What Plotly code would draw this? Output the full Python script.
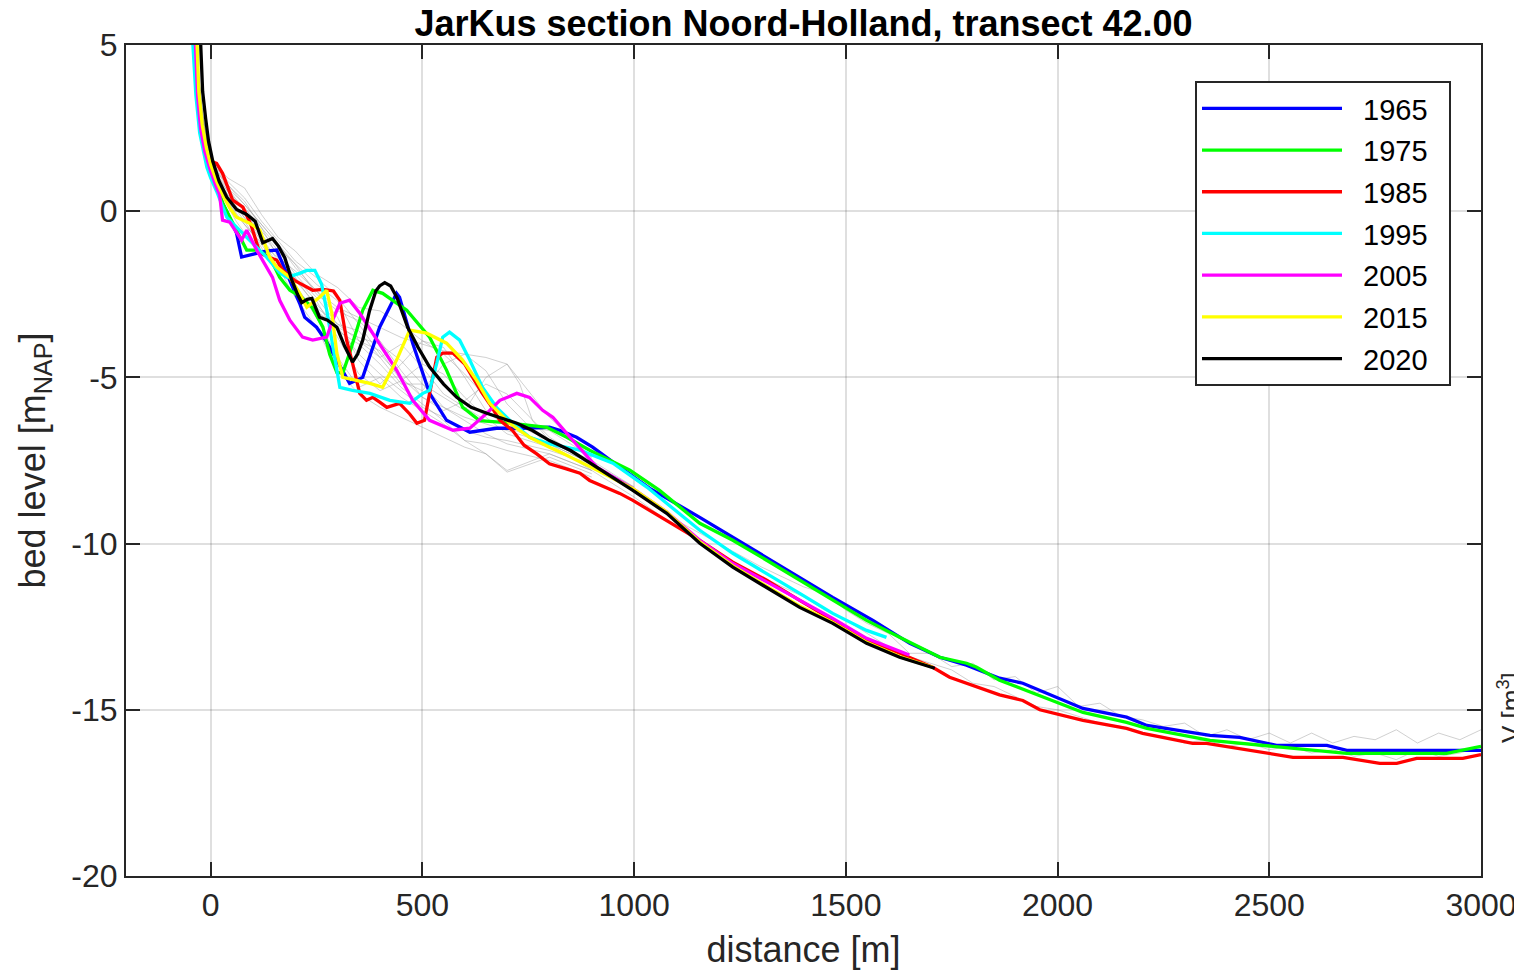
import plotly.graph_objects as go

# ---------------- data (distance [m], bed level [m NAP]) ----------------
years = ["1965", "1975", "1985", "1995", "2005", "2015", "2020"]
colors = ["#0000ff", "#00ff00", "#ff0000", "#00ffff", "#ff00ff", "#ffff00", "#000000"]

x_1965 = [-40, -36, -31, -24, -14, 0, 14, 28, 45, 61, 73, 99, 130, 156, 180, 210, 222, 250, 274, 298,
          328, 359, 399, 439, 446, 477, 517, 557, 612, 675, 737, 800, 824, 864, 902, 950, 1037, 1155,
          1233, 1313, 1391, 1469, 1564, 1651, 1722, 1785, 1863, 1918, 2060, 2163, 2211, 2360, 2430,
          2517, 2636, 2683, 3000]
z_1965 = [7.0, 5.0, 3.5, 2.5, 1.8, 1.2, 0.7, 0.24, -0.2, -0.66, -1.38, -1.3, -1.2, -1.17, -1.87, -2.77,
          -3.19, -3.49, -3.93, -4.48, -5.18, -5.0, -3.49, -2.47, -2.59, -3.97, -5.48, -6.29, -6.65,
          -6.53, -6.53, -6.5, -6.59, -6.8, -7.1, -7.55, -8.34, -9.21, -9.81, -10.41, -11.01, -11.62,
          -12.31, -13.0, -13.42, -13.66, -14.05, -14.2, -14.96, -15.22, -15.47, -15.77, -15.83,
          -16.07, -16.07, -16.22, -16.22]

x_1975 = [-40, -36, -31, -24, -14, 0, 14, 30, 50, 64, 85, 109, 139, 163, 187, 210, 240, 265, 281, 298,
          312, 328, 359, 383, 406, 463, 517, 557, 595, 635, 690, 753, 794, 841, 895, 990, 1060, 1155,
          1233, 1313, 1391, 1469, 1549, 1627, 1722, 1785, 1809, 1863, 1941, 2060, 2163, 2211, 2360,
          2517, 2683, 2919, 3000]
z_1975 = [7.0, 5.0, 3.5, 2.5, 1.8, 1.2, 0.7, 0.2, -0.3, -0.66, -1.17, -1.17, -1.38, -1.99, -2.38,
          -2.55, -2.9, -3.49, -4.3, -4.85, -4.87, -4.27, -2.98, -2.38, -2.47, -2.98, -3.79, -4.78,
          -5.9, -6.3, -6.35, -6.44, -6.5, -6.8, -7.19, -7.79, -8.4, -9.39, -9.9, -10.5, -11.1, -11.71,
          -12.31, -12.82, -13.42, -13.6, -13.72, -14.11, -14.5, -15.08, -15.38, -15.56, -15.92,
          -16.1, -16.31, -16.31, -16.1]

x_1985 = [-40, -36, -31, -24, -14, 0, 14, 28, 52, 76, 95, 116, 140, 156, 170, 200, 241, 265, 281, 290,
          305, 321, 335, 352, 368, 383, 400, 416, 446, 470, 487, 505, 517, 534, 548, 572, 600, 619,
          640, 659, 683, 713, 740, 770, 800, 840, 872, 895, 966, 997, 1077, 1155, 1233, 1313, 1391,
          1469, 1549, 1627, 1705, 1745, 1785, 1863, 1918, 1958, 2060, 2163, 2201, 2319, 2352, 2454,
          2556, 2674, 2761, 2801, 2848, 2957, 3000]
z_1985 = [7.0, 5.0, 3.6, 2.6, 1.9, 1.5, 1.44, 1.14, 0.33, 0.12, -0.4, -1.26, -1.4, -1.47, -1.78, -2.1,
          -2.38, -2.35, -2.38, -2.4, -2.68, -3.88, -4.57, -5.48, -5.69, -5.6, -5.75, -5.9, -5.78,
          -6.1, -6.38, -6.29, -5.48, -4.39, -4.27, -4.27, -4.6, -5.0, -5.45, -5.8, -6.29, -6.6,
          -7.04, -7.3, -7.6, -7.75, -7.88, -8.1, -8.49, -8.7, -9.3, -9.9, -10.56, -11.1, -11.71,
          -12.31, -12.91, -13.3, -13.72, -14.02, -14.2, -14.55, -14.72, -15.0, -15.32, -15.56,
          -15.71, -16.01, -16.01, -16.22, -16.43, -16.43, -16.61, -16.61, -16.46, -16.46, -16.35]

x_1995 = [-45, -42, -35, -26, -9, 0, 14, 38, 68, 99, 132, 163, 180, 210, 227, 246, 262, 274, 288, 305,
          335, 376, 423, 470, 501, 517, 534, 548, 564, 588, 612, 642, 675, 706, 753, 800, 872, 950,
          1030, 1077, 1155, 1233, 1313, 1391, 1469, 1549, 1596]
z_1995 = [7.0, 5.0, 3.5, 2.35, 1.32, 1.0, 0.6, -0.18, -0.57, -0.96, -1.38, -1.85, -1.99, -1.87, -1.78,
          -1.78, -2.2, -2.98, -4.09, -5.3, -5.39, -5.48, -5.69, -5.78, -5.48, -5.39, -4.57, -3.79,
          -3.64, -3.88, -4.48, -5.3, -5.9, -6.29, -6.8, -7.0, -7.19, -7.58, -8.3, -8.79, -9.6,
          -10.29, -10.89, -11.5, -12.1, -12.61, -12.82]

x_2005 = [-40, -36, -31, -24, -14, 0, 14, 21, 28, 45, 73, 85, 110, 146, 163, 187, 217, 241, 274, 288,
          305, 328, 352, 399, 439, 477, 517, 572, 612, 652, 683, 723, 753, 784, 808, 855, 912, 997,
          1077, 1155, 1233, 1313, 1391, 1469, 1549, 1627, 1650]
z_2005 = [7.0, 5.0, 3.5, 2.5, 1.8, 1.2, 0.7, 0.5, -0.27, -0.33, -0.87, -0.57, -1.2, -1.99, -2.68,
          -3.28, -3.79, -3.88, -3.79, -3.28, -2.77, -2.68, -3.07, -3.97, -4.78, -5.69, -6.29, -6.59,
          -6.53, -6.08, -5.69, -5.48, -5.6, -5.99, -6.2, -6.89, -7.7, -8.35, -9.05, -9.9, -10.6,
          -11.15, -11.7, -12.25, -12.85, -13.25, -13.35]

x_2015 = [-38, -33, -28, -20, -10, 0, 14, 30, 45, 61, 92, 116, 139, 156, 187, 210, 227, 257, 274, 286,
          298, 312, 345, 376, 406, 439, 470, 510, 557, 595, 628, 659, 706, 753, 800, 831, 912, 997,
          1077, 1155, 1233, 1313, 1391, 1469, 1549, 1627, 1705]
z_2015 = [7.0, 5.0, 3.6, 2.6, 1.9, 1.4, 0.9, 0.45, 0.1, -0.18, -0.36, -0.57, -1.38, -1.68, -1.99,
          -2.47, -2.89, -2.59, -2.38, -3.07, -4.27, -5.0, -5.09, -5.18, -5.3, -4.48, -3.58, -3.67,
          -3.97, -4.48, -5.09, -5.78, -6.38, -6.8, -7.1, -7.28, -7.79, -8.35, -9.05, -9.95, -10.67,
          -11.28, -11.88, -12.37, -12.97, -13.4, -13.72]

x_2020 = [-30, -23, -19, -12, -5, 5, 20, 38, 61, 85, 105, 123, 146, 160, 175, 191, 205, 215, 228, 239,
          257, 276, 298, 316, 335, 347, 359, 375, 390, 399, 411, 425, 440, 465, 490, 517, 550, 581,
          615, 652, 690, 723, 760, 800, 850, 919, 997, 1077, 1155, 1233, 1313, 1391, 1469, 1549,
          1627, 1710]
z_2020 = [7.0, 5.0, 3.6, 2.8, 2.1, 1.5, 0.9, 0.42, 0.05, -0.1, -0.3, -0.95, -0.82, -1.05, -1.4, -2.05,
          -2.5, -2.75, -2.65, -2.62, -3.19, -3.28, -3.49, -4.05, -4.54, -4.3, -3.88, -3.0, -2.4,
          -2.25, -2.15, -2.25, -2.6, -3.49, -4.1, -4.69, -5.2, -5.6, -5.9, -6.08, -6.25, -6.38, -6.6,
          -6.9, -7.2, -7.75, -8.4, -9.09, -9.99, -10.71, -11.31, -11.92, -12.4, -13.0, -13.42, -13.75]

# other (unlabelled) yearly profiles, drawn thin grey
xg_a = [-40, -20, 0, 30, 60, 100, 150, 200, 250, 300, 350, 400, 450, 500, 550, 600, 650, 700, 730, 760, 800, 900, 1000]
zg_a = [5.5, 2.9, 1.4, 0.5, -0.1, -0.7, -1.3, -1.8, -2.4, -2.9, -3.2, -3.5, -3.8, -4.0, -4.2, -4.3, -4.4, -4.6, -5.2, -6.3, -6.9, -7.5, -8.3]
xg_b = [-40, -20, 0, 30, 60, 100, 150, 200, 250, 300, 350, 400, 450, 500, 550, 600, 650, 700, 800, 900, 1000]
zg_b = [5.5, 2.8, 1.3, 0.4, -0.3, -1.0, -1.6, -2.1, -2.8, -3.5, -4.3, -4.9, -5.4, -5.9, -6.2, -6.6, -6.8, -6.9, -7.2, -7.6, -8.3]
xg_s = [-40, -20, 0, 40, 80, 120, 160, 200, 250, 300, 350, 400, 450, 500, 550, 600, 650, 700, 800, 900]
zg_c = [5.5, 3.0, 1.5, 0.7, 0.2, -0.4, -1.0, -1.7, -2.4, -3.2, -4.5, -5.2, -4.6, -3.9, -4.1, -5.0, -6.0, -6.5, -7.0, -7.6]
zg_d = [5.5, 2.9, 1.4, 0.6, 0.0, -0.6, -1.2, -1.9, -2.6, -3.4, -3.9, -4.2, -5.1, -5.4, -4.6, -4.3, -4.8, -5.8, -7.1, -7.7]
zg_e = [5.5, 2.7, 1.2, 0.3, -0.4, -1.0, -1.7, -2.6, -3.5, -4.8, -5.5, -5.9, -6.2, -6.5, -6.8, -7.1, -7.3, -7.85, -7.4, -7.9]
zg_f = [5.5, 2.8, 1.3, 0.5, -0.2, -0.8, -1.5, -2.2, -3.2, -4.4, -5.3, -5.0, -5.6, -6.0, -6.4, -6.9, -7.3, -7.8, -7.3, -7.8]
zg_g = [5.5, 3.0, 1.6, 1.0, 0.7, -0.1, -0.8, -1.2, -1.9, -2.3, -2.9, -3.0, -3.4, -3.9, -4.3, -4.9, -5.6, -6.3, -6.9, -7.6]
zg_h = [5.5, 2.9, 1.4, 0.8, 0.3, -0.5, -1.1, -1.6, -2.2, -2.7, -3.9, -4.4, -4.0, -4.7, -5.5, -5.9, -6.3, -6.4, -6.6, -7.4]
zg_i = [5.5, 2.8, 1.3, 0.6, 0.1, -0.5, -1.4, -2.0, -2.7, -3.8, -4.9, -5.4, -5.1, -4.6, -4.9, -5.6, -6.2, -6.7, -7.1, -7.7]
zg_j = [5.5, 2.9, 1.5, 0.9, 0.4, -0.3, -0.9, -1.5, -2.0, -2.6, -3.4, -4.3, -5.0, -5.6, -5.9, -6.2, -6.4, -6.6, -7.0, -7.6]
zg_k = [5.5, 2.7, 1.2, 0.4, -0.3, -1.1, -1.9, -2.5, -3.0, -3.5, -3.8, -4.0, -4.5, -5.2, -5.9, -6.3, -6.7, -7.0, -7.3, -7.8]
zg_l = [5.5, 3.0, 1.5, 0.8, 0.2, -0.4, -1.0, -1.6, -2.5, -3.0, -3.3, -3.9, -4.8, -5.6, -6.0, -5.7, -5.2, -5.5, -6.8, -7.6]
zg_m = [5.5, 2.8, 1.4, 0.5, -0.2, -0.9, -1.6, -2.3, -3.0, -3.6, -4.0, -4.6, -5.3, -5.8, -6.3, -6.9, -7.0, -7.2, -7.5, -8.0]
zg_o = [5.5, 2.9, 1.3, 0.7, 0.0, -0.7, -1.3, -2.0, -2.9, -3.4, -3.6, -4.4, -5.2, -5.2, -5.6, -6.0, -5.0, -4.6, -6.2, -7.4]
xg_n = [800, 900, 1000, 1100, 1200, 1300, 1400, 1450, 1500, 1550, 1600, 1650, 1700, 1750, 1800, 1850, 1900,
        1950, 2000, 2050, 2100, 2150, 2200, 2250, 2300, 2350, 2400, 2450, 2500, 2550, 2600, 2650, 2700,
        2750, 2800, 2850, 2900, 2950, 3000]
zg_n1 = [-6.9, -7.6, -8.4, -9.3, -10.0, -10.7, -11.3, -11.5, -12.0, -12.4, -12.7, -13.3, -13.3, -13.7,
         -13.6, -14.1, -14.0, -14.5, -14.3, -14.9, -14.8, -15.2, -15.3, -15.5, -15.4, -15.8, -15.6,
         -15.9, -15.7, -16.0, -15.7, -16.0, -15.8, -15.9, -15.6, -16.0, -15.7, -15.9, -15.6]
zg_n2 = [-7.0, -7.8, -8.6, -9.5, -10.3, -11.0, -11.6, -12.0, -12.3, -12.7, -13.1, -13.4, -13.6, -13.8,
         -14.2, -14.3, -14.6, -14.9, -15.0, -15.2, -15.4, -15.5, -15.7, -15.8, -16.0, -15.9, -16.1,
         -16.0, -16.2, -16.1, -16.3, -16.2, -16.4, -16.3, -16.5, -16.2, -16.4, -16.3, -16.1]

grey_profiles = [(xg_a, zg_a), (xg_b, zg_b), (xg_s, zg_c), (xg_s, zg_d), (xg_s, zg_e), (xg_s, zg_f),
                 (xg_s, zg_g), (xg_s, zg_h), (xg_s, zg_i), (xg_s, zg_j), (xg_s, zg_k), (xg_s, zg_l),
                 (xg_s, zg_m), (xg_s, zg_o), (xg_n, zg_n1), (xg_n, zg_n2)]
profiles = [(x_1965, z_1965), (x_1975, z_1975), (x_1985, z_1985), (x_1995, z_1995),
            (x_2005, z_2005), (x_2015, z_2015), (x_2020, z_2020)]

x_ticks = [0, 500, 1000, 1500, 2000, 2500, 3000]
y_ticks = [-20, -15, -10, -5, 0, 5]
y_ticktext = ["-20", "-15", "-10", "-5", "0", "5"]

# ---------------- figure ----------------
# the page body has an 8 px default margin, so the figure is 8 px smaller and shifted
FONT = "Liberation Sans, Arial, Helvetica, sans-serif"
AX = "#262626"
NB = "\u00a0"
FIG_W, FIG_H = 1514, 962

fig = go.Figure()
for gx, gz in grey_profiles:
    fig.add_trace(go.Scatter(x=gx, y=gz, mode="lines", showlegend=False, hoverinfo="skip",
                             line=dict(color="rgba(150,150,150,0.45)", width=1)))
for name, col, (px, pz) in zip(years, colors, profiles):
    fig.add_trace(go.Scatter(x=px, y=pz, mode="lines", name=NB + NB + name + NB + NB, legendgroup=name,
                             line=dict(color=col, width=3.3)))

axis_common = dict(showline=True, linecolor=AX, linewidth=2, mirror="ticks", ticks="inside",
                   ticklen=14, tickwidth=2, tickcolor=AX, showgrid=True, automargin=False,
                   gridcolor="rgba(38,38,38,0.15)", gridwidth=2, zeroline=False,
                   tickfont=dict(family=FONT, size=32, color=AX))

fig.update_layout(
    width=FIG_W, height=FIG_H,
    margin=dict(l=118, r=41, t=37, b=94, autoexpand=False),
    paper_bgcolor="white", plot_bgcolor="white",
    font=dict(family=FONT, color=AX, size=30),
    title=dict(text="<b>JarKus section Noord-Holland, transect 42.00</b>",
               x=0.5, xref="paper", xanchor="center",
               y=1 - 15 / FIG_H, yref="container", yanchor="middle",
               font=dict(family=FONT, size=36, color="#000000")),
    xaxis=dict(range=[-200, 3000], tickvals=x_ticks, **axis_common,
               title=dict(text="distance [m]", font=dict(family=FONT, size=36, color=AX), standoff=14)),
    yaxis=dict(range=[-20, 5], tickvals=y_ticks, ticktext=y_ticktext, **axis_common,
               title=dict(text="bed level [m<sub>NAP</sub>]", font=dict(family=FONT, size=36, color=AX),
                          standoff=15)),
    legend=dict(x=(1195 - 126) / 1355, y=1 - (81 - 45) / 831, xanchor="left", yanchor="top",
                bgcolor="white", bordercolor=AX, borderwidth=2,
                font=dict(family=FONT, size=29, color="#000000"),
                itemwidth=140, traceorder="grouped", tracegroupgap=1),
    annotations=[dict(text="V [m<sup>3</sup>]", textangle=-90, xref="paper", yref="paper",
                      x=(1509 - 126) / 1355, y=1 - (708 - 45) / 831, xanchor="center", yanchor="middle",
                      showarrow=False, font=dict(family=FONT, size=26, color=AX))],
)

fig.write_html("out.html")
